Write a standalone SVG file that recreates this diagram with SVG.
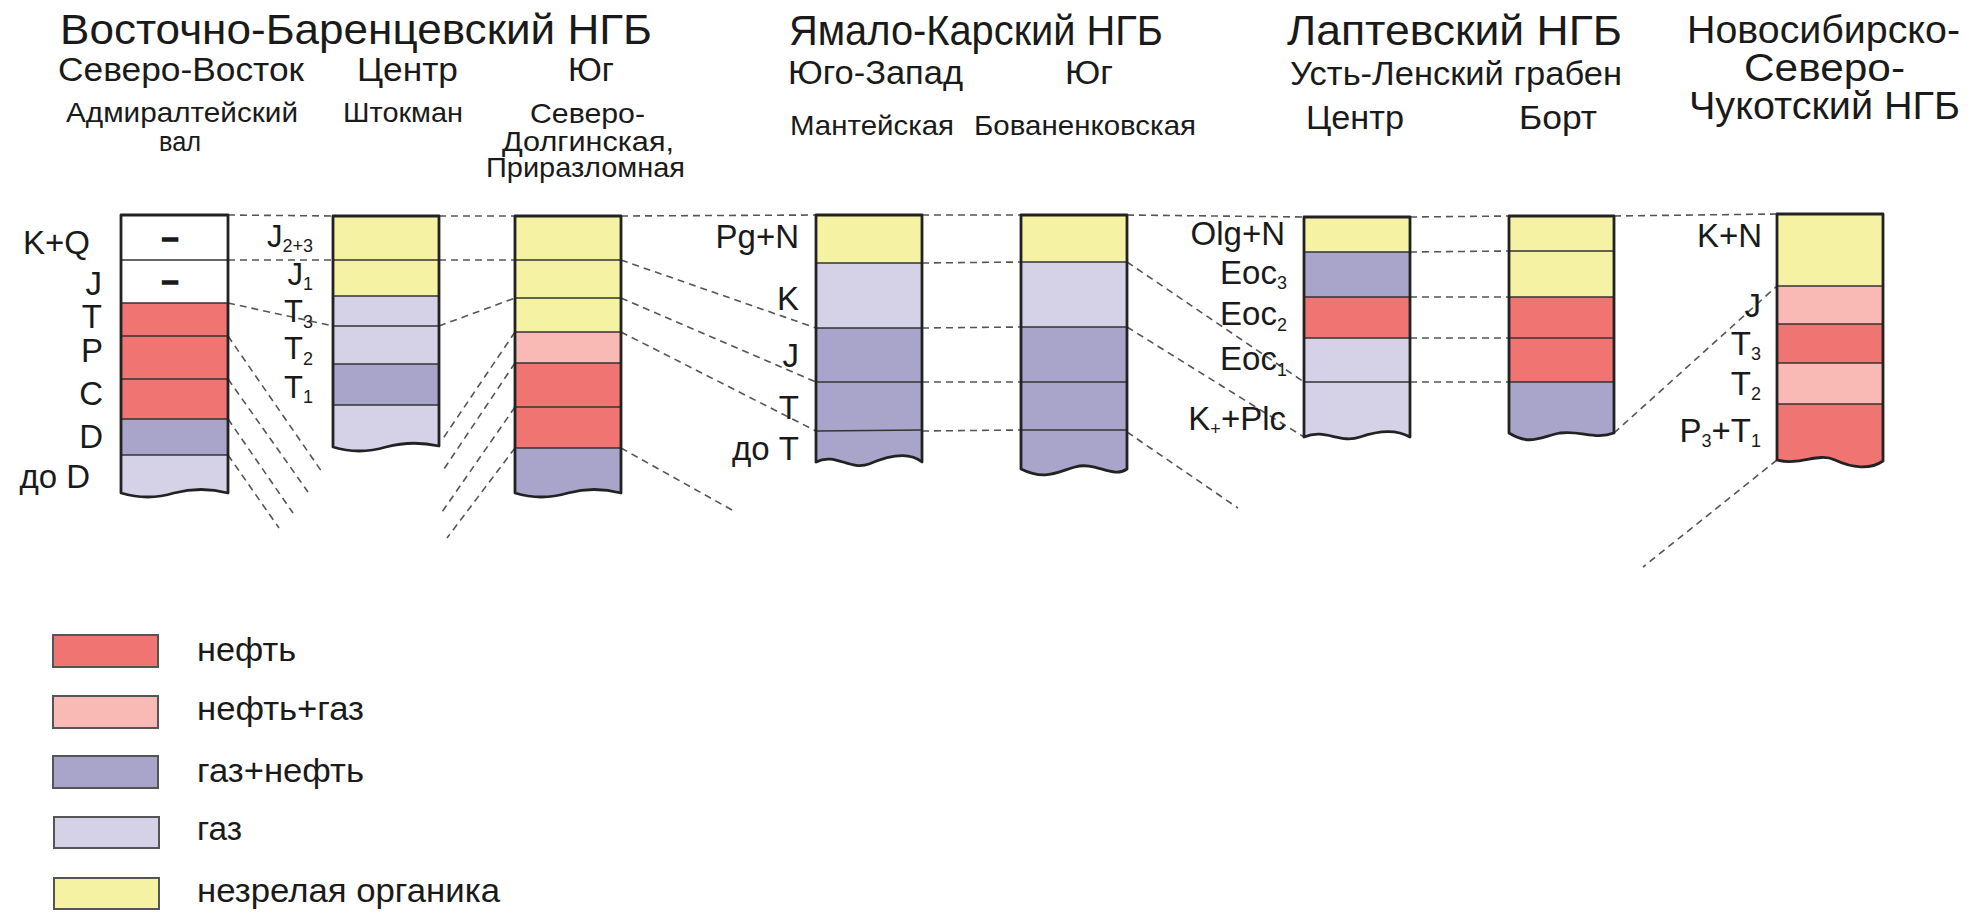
<svg xmlns="http://www.w3.org/2000/svg" width="1980" height="913" viewBox="0 0 1980 913">
<style>
text{font-family:"Liberation Sans",Arial,sans-serif;fill:#1a1a1a}
.t{font-size:43px}.s2{font-size:33px}.s3{font-size:28px}.ns{font-size:38px}
.lb{font-size:33px}.lc{font-size:31px}.lg{font-size:33px}.sub{font-size:18px}
.frame{fill:none;stroke:#222;stroke-width:2.8;stroke-linejoin:round}
.bd{stroke:#333;stroke-width:1.6}
.dash{fill:none;stroke:#555;stroke-width:1.6;stroke-dasharray:7 5}
.r{fill:#F07472}.p{fill:#F9B9B5}.g{fill:#A9A4CA}.l{fill:#D5D1E7}.y{fill:#F5F3A3}.w{fill:#FFFFFF}
.key{stroke:#555;stroke-width:2}
.mk{font-size:30px;font-weight:bold;stroke:#1a1a1a;stroke-width:1.6}
</style>
<rect width="1980" height="913" fill="#FFFFFF"/>

<g id="headers">
<text class="t" x="60" y="44" textLength="592" lengthAdjust="spacingAndGlyphs">Восточно-Баренцевский НГБ</text>
<text class="s2" x="58" y="81" textLength="246" lengthAdjust="spacingAndGlyphs">Северо-Восток</text>
<text class="s2" x="357" y="81" textLength="101" lengthAdjust="spacingAndGlyphs">Центр</text>
<text class="s2" x="568" y="81" textLength="46" lengthAdjust="spacingAndGlyphs">Юг</text>
<text class="s3" x="66" y="122" textLength="232" lengthAdjust="spacingAndGlyphs">Адмиралтейский</text>
<text class="s3" x="159" y="151" textLength="42" lengthAdjust="spacingAndGlyphs">вал</text>
<text class="s3" x="343" y="122" textLength="120" lengthAdjust="spacingAndGlyphs">Штокман</text>
<text class="s3" x="530" y="123" textLength="115" lengthAdjust="spacingAndGlyphs">Северо-</text>
<text class="s3" x="502" y="151" textLength="172" lengthAdjust="spacingAndGlyphs">Долгинская,</text>
<text class="s3" x="486" y="177" textLength="199" lengthAdjust="spacingAndGlyphs">Приразломная</text>

<text class="t" x="789" y="45" textLength="374" lengthAdjust="spacingAndGlyphs">Ямало-Карский НГБ</text>
<text class="s2" x="788" y="84" textLength="175" lengthAdjust="spacingAndGlyphs">Юго-Запад</text>
<text class="s2" x="1065" y="84" textLength="48" lengthAdjust="spacingAndGlyphs">Юг</text>
<text class="s3" x="790" y="135" textLength="164" lengthAdjust="spacingAndGlyphs">Мантейская</text>
<text class="s3" x="974" y="135" textLength="222" lengthAdjust="spacingAndGlyphs">Бованенковская</text>

<text class="t" x="1287" y="45" textLength="335" lengthAdjust="spacingAndGlyphs">Лаптевский НГБ</text>
<text class="s2" x="1290" y="85" textLength="332" lengthAdjust="spacingAndGlyphs">Усть-Ленский грабен</text>
<text class="s2" x="1306" y="129" textLength="98" lengthAdjust="spacingAndGlyphs">Центр</text>
<text class="s2" x="1519" y="129" textLength="78" lengthAdjust="spacingAndGlyphs">Борт</text>

<text class="ns" x="1687" y="43" textLength="273" lengthAdjust="spacingAndGlyphs">Новосибирско-</text>
<text class="ns" x="1744" y="81" textLength="161" lengthAdjust="spacingAndGlyphs">Северо-</text>
<text class="ns" x="1689" y="119" textLength="271" lengthAdjust="spacingAndGlyphs">Чукотский НГБ</text>
</g>

<g id="connectors">
<path class="dash" d="M228,215 L333,216 M439,216 L515,216 M621,216 L816,215 M922,215 L1021,215 M1127,215 L1304,217 M1410,217 L1509,216 M1614,216 L1777,214"/>
<path class="dash" d="M228,260 L333,260 M228,303 L333,326"/>
<path class="dash" d="M228,336 L322,472 M228,379 L308,492 M228,419 L293,513 M228,455 L279,528"/>
<path class="dash" d="M439,260 L515,260 M439,326 L515,298"/>
<path class="dash" d="M515,332 L442,440 M515,363 L442,472 M515,407 L442,512 M515,448 L447,538"/>
<path class="dash" d="M621,260 L816,328 M621,298 L816,382 M621,332 L816,431 M621,448 L732,510"/>
<path class="dash" d="M922,263 L1021,262 M922,328 L1021,327 M922,382 L1021,382 M922,431 L1021,430"/>
<path class="dash" d="M1127,262 L1304,382 M1127,327 L1304,437 M1127,432 L1238,508"/>
<path class="dash" d="M1410,252 L1509,251 M1410,297 L1509,297 M1410,338 L1509,338 M1410,382 L1509,382"/>
<path class="dash" d="M1614,433 L1777,286 M1777,460 L1643,567"/>
</g>

<g id="col-admiralty">
<rect class="w" x="121" y="215" width="107" height="88"/>
<rect class="r" x="121" y="303" width="107" height="116"/>
<rect class="g" x="121" y="419" width="107" height="36"/>
<path class="l" d="M121,455 H228 V493 Q201,486 174,493 Q148,501 121,493 Z"/>
<path class="bd" d="M121,260 H228 M121,303 H228 M121,336 H228 M121,379 H228 M121,419 H228 M121,455 H228"/>
<path class="frame" d="M121,215 H228 V493 Q201,486 174,493 Q148,501 121,493 Z"/>
<text class="mk" x="170" y="248" text-anchor="middle">–</text>
<text class="mk" x="170" y="291" text-anchor="middle">–</text>
<text class="lb" x="90" y="254" text-anchor="end">K+Q</text>
<text class="lb" x="102" y="295" text-anchor="end">J</text>
<text class="lb" x="102" y="328" text-anchor="end">T</text>
<text class="lb" x="103" y="362" text-anchor="end">P</text>
<text class="lb" x="103" y="405" text-anchor="end">C</text>
<text class="lb" x="103" y="448" text-anchor="end">D</text>
<text class="lb" x="90" y="488" text-anchor="end">до D</text>
</g>

<g id="col-shtokman">
<rect class="y" x="333" y="216" width="106" height="80"/>
<rect class="l" x="333" y="296" width="106" height="68"/>
<rect class="g" x="333" y="364" width="106" height="41"/>
<path class="l" d="M333,405 H439 V446 Q412,440 386,447 Q359,455 333,447 Z"/>
<path class="bd" d="M333,260 H439 M333,296 H439 M333,326 H439 M333,364 H439 M333,405 H439"/>
<path class="frame" d="M333,216 H439 V446 Q412,440 386,447 Q359,455 333,447 Z"/>
<text class="lc" x="313" y="247" text-anchor="end">J<tspan class="sub" dy="5">2+3</tspan></text>
<text class="lc" x="313" y="285" text-anchor="end">J<tspan class="sub" dy="5">1</tspan></text>
<text class="lc" x="313" y="322" text-anchor="end">T<tspan class="sub" dy="6">3</tspan></text>
<text class="lc" x="313" y="359" text-anchor="end">T<tspan class="sub" dy="6">2</tspan></text>
<text class="lc" x="313" y="398" text-anchor="end">T<tspan class="sub" dy="5">1</tspan></text>
</g>

<g id="col-prirazlomnaya">
<rect class="y" x="515" y="216" width="106" height="116"/>
<rect class="p" x="515" y="332" width="106" height="31"/>
<rect class="r" x="515" y="363" width="106" height="85"/>
<path class="g" d="M515,448 H621 V493 Q594,486 568,493 Q541,501 515,493 Z"/>
<path class="bd" d="M515,260 H621 M515,298 H621 M515,332 H621 M515,363 H621 M515,407 H621 M515,448 H621"/>
<path class="frame" d="M515,216 H621 V493 Q594,486 568,493 Q541,501 515,493 Z"/>
</g>

<g id="col-manteyskaya">
<rect class="y" x="816" y="215" width="106" height="48"/>
<rect class="l" x="816" y="263" width="106" height="65"/>
<path class="g" d="M816,328 H922 V462 C910,452 890,455 869,464 C850,471 835,452 816,462 Z"/>
<path class="bd" d="M816,263 H922 M816,328 H922 M816,382 H922 M816,431 L922,430"/>
<path class="frame" d="M816,215 H922 V462 C910,452 890,455 869,464 C850,471 835,452 816,462 Z"/>
<text class="lb" x="799" y="248" text-anchor="end">Pg+N</text>
<text class="lb" x="799" y="310" text-anchor="end">K</text>
<text class="lb" x="799" y="367" text-anchor="end">J</text>
<text class="lb" x="799" y="419" text-anchor="end">T</text>
<text class="lb" x="799" y="460" text-anchor="end">до T</text>
</g>

<g id="col-bovanenkovskaya">
<rect class="y" x="1021" y="215" width="106" height="47"/>
<rect class="l" x="1021" y="262" width="106" height="65"/>
<path class="g" d="M1021,327 H1127 V469 C1113,479 1095,461 1075,467 C1057,472 1045,481 1021,469 Z"/>
<path class="bd" d="M1021,262 H1127 M1021,327 H1127 M1021,382 H1127 M1021,430 H1127"/>
<path class="frame" d="M1021,215 H1127 V469 C1113,479 1095,461 1075,467 C1057,472 1045,481 1021,469 Z"/>
</g>

<g id="col-lena-center">
<rect class="y" x="1304" y="217" width="106" height="35"/>
<rect class="g" x="1304" y="252" width="106" height="45"/>
<rect class="r" x="1304" y="297" width="106" height="41"/>
<path class="l" d="M1304,338 H1410 V437 C1398,430 1380,430 1360,437 C1340,444 1325,428 1304,437 Z"/>
<path class="bd" d="M1304,252 H1410 M1304,297 H1410 M1304,338 H1410 M1304,382 H1410"/>
<path class="frame" d="M1304,217 H1410 V437 C1398,430 1380,430 1360,437 C1340,444 1325,428 1304,437 Z"/>
<text class="lb" x="1285" y="245" text-anchor="end">Olg+N</text>
<text class="lb" x="1287" y="284" text-anchor="end">Eoc<tspan class="sub" dy="5">3</tspan></text>
<text class="lb" x="1287" y="325" text-anchor="end">Eoc<tspan class="sub" dy="6">2</tspan></text>
<text class="lb" x="1287" y="370" text-anchor="end">Eoc<tspan class="sub" dy="6">1</tspan></text>
<text class="lb" x="1286" y="430" text-anchor="end">K<tspan class="sub" dy="5">+</tspan><tspan dy="-5">+Plc</tspan></text>
</g>

<g id="col-lena-bort">
<rect class="y" x="1509" y="216" width="105" height="81"/>
<rect class="r" x="1509" y="297" width="105" height="85"/>
<path class="g" d="M1509,382 H1614 V433 C1595,440 1580,430 1560,433 C1540,437 1530,446 1509,433 Z"/>
<path class="bd" d="M1509,251 H1614 M1509,297 H1614 M1509,338 H1614 M1509,382 H1614"/>
<path class="frame" d="M1509,216 H1614 V433 C1595,440 1580,430 1560,433 C1540,437 1530,446 1509,433 Z"/>
</g>

<g id="col-novosibirsk">
<rect class="y" x="1777" y="214" width="106" height="72"/>
<rect class="p" x="1777" y="286" width="106" height="38"/>
<rect class="r" x="1777" y="324" width="106" height="39"/>
<rect class="p" x="1777" y="363" width="106" height="41"/>
<path class="r" d="M1777,404 H1883 V461 C1870,470 1852,468 1835,460 C1818,452 1800,466 1777,460 Z"/>
<path class="bd" d="M1777,286 H1883 M1777,324 H1883 M1777,363 H1883 M1777,404 H1883"/>
<path class="frame" d="M1777,214 H1883 V461 C1870,470 1852,468 1835,460 C1818,452 1800,466 1777,460 Z"/>
<text class="lb" x="1762" y="247" text-anchor="end">K+N</text>
<text class="lb" x="1761" y="317" text-anchor="end">J</text>
<text class="lb" x="1761" y="355" text-anchor="end">T<tspan class="sub" dy="5">3</tspan></text>
<text class="lb" x="1761" y="395" text-anchor="end">T<tspan class="sub" dy="5">2</tspan></text>
<text class="lb" x="1761" y="442" text-anchor="end">P<tspan class="sub" dy="5">3</tspan><tspan dy="-5">+T</tspan><tspan class="sub" dy="5">1</tspan></text>
</g>

<g id="legend">
<rect class="r key" x="53" y="635" width="105" height="32"/>
<text class="lg" x="197" y="661" textLength="99" lengthAdjust="spacingAndGlyphs">нефть</text>
<rect class="p key" x="53" y="696" width="105" height="32"/>
<text class="lg" x="197" y="720" textLength="167" lengthAdjust="spacingAndGlyphs">нефть+газ</text>
<rect class="g key" x="53" y="756" width="105" height="32"/>
<text class="lg" x="197" y="782" textLength="167" lengthAdjust="spacingAndGlyphs">газ+нефть</text>
<rect class="l key" x="54" y="817" width="105" height="31"/>
<text class="lg" x="197" y="840" textLength="45" lengthAdjust="spacingAndGlyphs">газ</text>
<rect class="y key" x="54" y="878" width="105" height="31"/>
<text class="lg" x="197" y="902" textLength="303" lengthAdjust="spacingAndGlyphs">незрелая органика</text>
</g>
</svg>
